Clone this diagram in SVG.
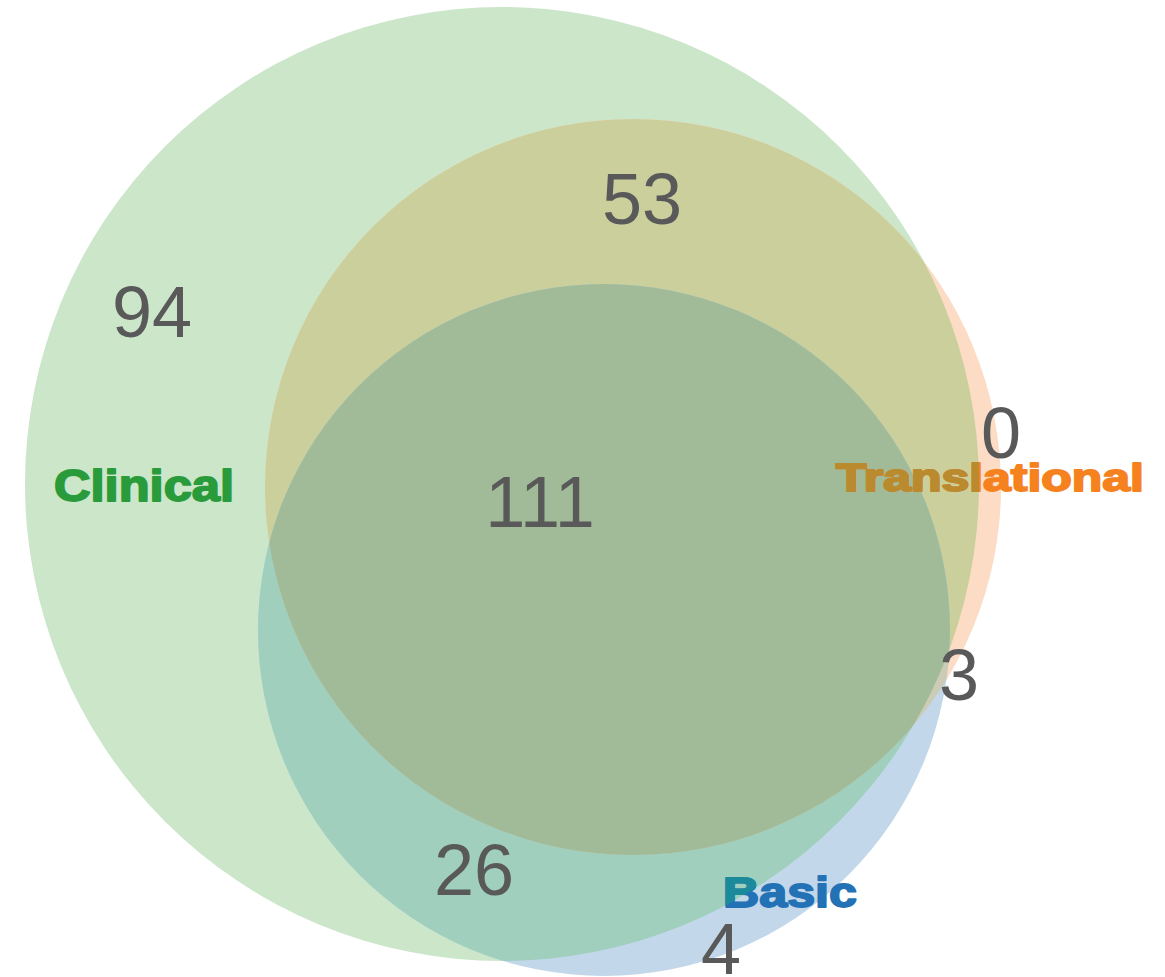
<svg xmlns="http://www.w3.org/2000/svg" width="1165" height="977" viewBox="0 0 1165 977">
<style>
.num{font-family:"Liberation Sans",Arial,sans-serif;font-size:72px;fill:#595959;text-anchor:middle}
.lbl{font-family:"Liberation Sans",Arial,sans-serif;font-weight:bold;stroke-width:1.8px;stroke-linejoin:round}
</style>
<defs>
<clipPath id="cG"><circle cx="502" cy="484" r="477"/></clipPath>
<clipPath id="cO"><circle cx="633" cy="487" r="368"/></clipPath>
</defs>
<rect width="1165" height="977" fill="#ffffff"/>
<g id="clinical">
<circle cx="502" cy="484" r="477" fill="#cce6ca"/>
</g>
<g id="translational">
<circle cx="633" cy="487" r="368" fill="#fcdcc5"/>
<circle cx="633" cy="487" r="368" fill="#cbcf9c" clip-path="url(#cG)"/>
</g>
<g id="basic">
<circle cx="604" cy="630" r="346" fill="#c2d8ea"/>
<circle cx="604" cy="630" r="346" fill="#a0cfbd" clip-path="url(#cG)"/>
<circle cx="604" cy="630" r="346" fill="#cbcbb6" clip-path="url(#cO)"/>
<g clip-path="url(#cG)">
<circle cx="604" cy="630" r="346" fill="#a1bb98" clip-path="url(#cO)"/>
</g>
</g>
<g id="connectors"/>
<g id="labels">
<text class="lbl" x="54" y="501" font-size="44" textLength="180" lengthAdjust="spacingAndGlyphs" fill="#2a9b3b" stroke="#2a9b3b">Clinical</text>
<text class="lbl" x="836" y="491" font-size="38" textLength="308" lengthAdjust="spacingAndGlyphs" fill="#f5821f" stroke="#f5821f">Translational</text>
<text class="lbl" x="836" y="491" font-size="38" textLength="308" lengthAdjust="spacingAndGlyphs" fill="#b98a2e" stroke="#b98a2e" clip-path="url(#cG)">Translational</text>
<text class="lbl" x="723" y="907" font-size="42" textLength="134" lengthAdjust="spacingAndGlyphs" fill="#2372b5" stroke="#2372b5">Basic</text>
<text class="lbl" x="723" y="907" font-size="42" textLength="134" lengthAdjust="spacingAndGlyphs" fill="#1b8b9b" stroke="#1b8b9b" clip-path="url(#cG)">Basic</text>
</g>
<g id="counts">
<text class="num" x="152" y="337">94</text>
<text class="num" x="642" y="224">53</text>
<text class="num" x="540" y="527">111</text>
<text class="num" x="1001" y="458">0</text>
<text class="num" x="959" y="700">3</text>
<text class="num" x="474" y="895">26</text>
<text class="num" x="721" y="974">4</text>
</g>
</svg>
